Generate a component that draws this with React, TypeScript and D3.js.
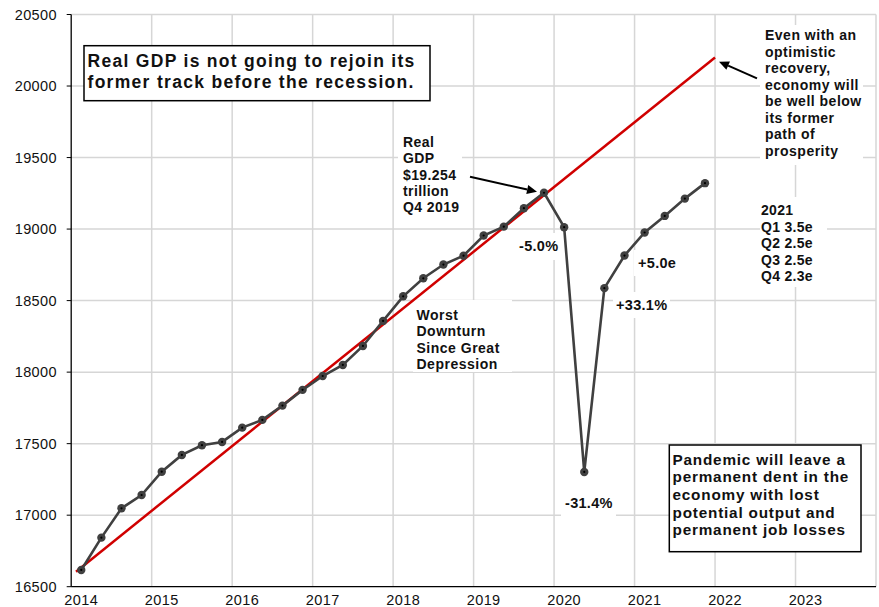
import React from "react";
import * as d3 from "d3";

const quarters: string[] = [
  "2014Q1", "2014Q2", "2014Q3", "2014Q4",
  "2015Q1", "2015Q2", "2015Q3", "2015Q4",
  "2016Q1", "2016Q2", "2016Q3", "2016Q4",
  "2017Q1", "2017Q2", "2017Q3", "2017Q4",
  "2018Q1", "2018Q2", "2018Q3", "2018Q4",
  "2019Q1", "2019Q2", "2019Q3", "2019Q4",
  "2020Q1", "2020Q2", "2020Q3", "2020Q4",
  "2021Q1", "2021Q2", "2021Q3", "2021Q4",
];

const realGdp: number[] = [
  16617, 16843, 17048, 17141,
  17304, 17421, 17489, 17512,
  17612, 17666, 17766, 17876,
  17973, 18050, 18183, 18358,
  18530, 18656, 18752, 18814,
  18955, 19017, 19146, 19254,
  19013, 17302, 18587, 18815,
  18976, 19092, 19213, 19321,
];

const trendYears: number[] = [2014.06, 2022.0];
const trendValues: number[] = [16605, 20200];

const yearTicks: number[] = [2014, 2015, 2016, 2017, 2018, 2019, 2020, 2021, 2022, 2023];
const valueTicks: number[] = [16500, 17000, 17500, 18000, 18500, 19000, 19500, 20000, 20500];

const FONT = "'Liberation Sans', Arial, Helvetica, sans-serif";

function quarterToYear(q: string): number {
  const yr = +q.slice(0, 4);
  const qn = +q.slice(5);
  return yr + (qn - 0.5) / 4;
}

function Lines({ x, y, lines, size, dy, ls = 0.5, anchor = "start" }: any) {
  return (
    <text x={x} y={y} fontFamily={FONT} fontWeight="bold" fontSize={size} fill="#111" letterSpacing={ls} textAnchor={anchor}>
      {lines.map((l: string, i: number) => (
        <tspan key={i} x={x} dy={i === 0 ? 0 : dy}>{l}</tspan>
      ))}
    </text>
  );
}

function Arrow({ x1, y1, x2, y2 }: any) {
  const ang = Math.atan2(y2 - y1, x2 - x1);
  const L = 10, W = 4.5;
  const bx = x2 - L * Math.cos(ang), by = y2 - L * Math.sin(ang);
  const p = [
    [x2, y2],
    [bx + W * Math.sin(ang), by - W * Math.cos(ang)],
    [bx - W * Math.sin(ang), by + W * Math.cos(ang)],
  ];
  return (
    <g>
      <line x1={x1} y1={y1} x2={bx} y2={by} stroke="#000" strokeWidth={2} />
      <polygon points={p.map((d) => d.join(",")).join(" ")} fill="#000" />
    </g>
  );
}

export default function App() {
  const W = 879, H = 607;
  const left = 71.2, right = 876, top = 14.5, bottom = 586.7;
  const x = d3.scaleLinear().domain([2014, 2024]).range([left, right]);
  const y = d3.scaleLinear().domain([16500, 20500]).range([bottom, top]);

  const pts = quarters.map((q, i) => ({ t: quarterToYear(q), v: realGdp[i] }));
  const line = d3.line<{ t: number; v: number }>().x((d) => x(d.t)).y((d) => y(d.v));
  const trend = trendYears.map((t, i) => ({ t, v: trendValues[i] }));

  const grid = "#d6d6d6";

  return (
    <svg width={W} height={H} style={{ position: "absolute", left: 0, top: 0, background: "#fff" }}>
      {/* gridlines */}
      {valueTicks.slice(1).map((v) => (
        <line key={"h" + v} x1={left} x2={right} y1={y(v)} y2={y(v)} stroke={grid} strokeWidth={1.5} />
      ))}
      {yearTicks.slice(1).concat([2024]).map((t) => (
        <line key={"v" + t} x1={x(t)} x2={x(t)} y1={top} y2={bottom} stroke={grid} strokeWidth={1.5} />
      ))}

      {/* white backgrounds behind annotations */}
      <rect x={398} y={132} width={64} height={86} fill="#fff" />
      <rect x={413} y={300} width={99} height={72} fill="#fff" />
      <rect x={515} y={233} width={45} height={27} fill="#fff" />
      <rect x={613} y={292} width={57} height={26} fill="#fff" />
      <rect x={634} y={250} width={46} height={26} fill="#fff" />
      <rect x={561} y={488} width={55} height={32} fill="#fff" />
      <rect x={760} y={25} width={103} height={140} fill="#fff" />
      <rect x={760} y={197} width={67} height={90} fill="#fff" />

      {/* axes */}
      <line x1={left} x2={left} y1={top} y2={bottom} stroke="#000" strokeWidth={1.3} />
      <line x1={left} x2={right} y1={bottom} y2={bottom} stroke="#000" strokeWidth={1.3} />
      {valueTicks.map((v) => (
        <g key={"yt" + v}>
          <line x1={left - 4.5} x2={left} y1={y(v)} y2={y(v)} stroke="#000" strokeWidth={1} />
          <text x={57} y={y(v)} dy="0.35em" textAnchor="end" fontFamily={FONT} fontSize={14.5} letterSpacing={0.4} fill="#111">
            {v}
          </text>
        </g>
      ))}
      {yearTicks.map((t) => (
        <text key={"xt" + t} x={x(t + 0.125)} y={605} textAnchor="middle" fontFamily={FONT} fontSize={14.5} letterSpacing={0.4} fill="#111">
          {t}
        </text>
      ))}

      {/* trend line */}
      <path d={line(trend) || ""} fill="none" stroke="#d00000" strokeWidth={2.5} />

      {/* GDP line */}
      <path d={line(pts) || ""} fill="none" stroke="#404040" strokeWidth={2.6} />
      {pts.map((d, i) => (
        <g key={"p" + i}>
          <circle cx={x(d.t)} cy={y(d.v)} r={4.2} fill="#404040" />
          <circle cx={x(d.t)} cy={y(d.v)} r={1.1} fill="#000" />
        </g>
      ))}

      {/* title box */}
      <rect x={84} y={45.7} width={346} height={55} fill="#fff" stroke="#000" strokeWidth={1.5} />
      <Lines x={87.5} y={67} lines={["Real GDP is not going to rejoin its", "former track before the recession."]} size={17.5} dy={20.7} ls={1.3} />

      {/* annotations */}
      <Lines x={403} y={146.7} lines={["Real", "GDP", "$19.254", "trillion", "Q4 2019"]} size={14} dy={16.4} ls={0.4} />
      <Arrow x1={470} y1={176.7} x2={537} y2={191.7} />

      <Lines x={416.5} y={320} lines={["Worst", "Downturn", "Since Great", "Depression"]} size={14} dy={16.4} ls={0.5} />

      <Lines x={519} y={251} lines={["-5.0%"]} size={14.5} dy={16} ls={0.3} />
      <Lines x={638} y={268.3} lines={["+5.0e"]} size={14.5} dy={16} ls={0.3} />
      <Lines x={616} y={310} lines={["+33.1%"]} size={14.5} dy={16} ls={0.3} />
      <Lines x={565} y={507.7} lines={["-31.4%"]} size={14.5} dy={16} ls={0.3} />

      <Lines x={765} y={40} lines={["Even with an", "optimistic", "recovery,", "economy will", "be well below", "its former", "path of", "prosperity"]} size={14} dy={16.5} ls={0.5} />
      <Arrow x1={757} y1={78.3} x2={719} y2={61.7} />

      <Lines x={761} y={215} lines={["2021", "Q1 3.5e", "Q2 2.5e", "Q3 2.5e", "Q4 2.3e"]} size={14} dy={16.5} ls={0.3} />

      <rect x={669.3} y={445} width={191.7} height={106.7} fill="#fff" stroke="#000" strokeWidth={1.5} />
      <Lines x={672.5} y={464.5} lines={["Pandemic will leave a", "permanent dent in the", "economy with lost", "potential output and", "permanent job losses"]} size={15.3} dy={17.7} ls={0.8} />
    </svg>
  );
}
